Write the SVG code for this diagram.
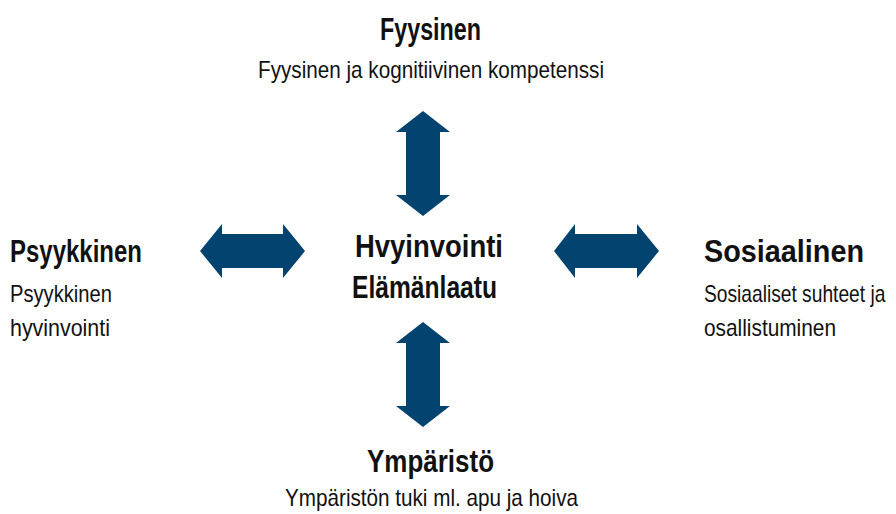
<svg xmlns="http://www.w3.org/2000/svg" width="896" height="514" viewBox="0 0 896 514">
<style>
.h{font-family:"Liberation Sans",Arial,sans-serif;font-weight:bold;font-size:31px;fill:#111}
.t{font-family:"Liberation Sans",Arial,sans-serif;font-size:24px;fill:#111}
.a{fill:#02436f}
</style>
<rect width="896" height="514" fill="#fff"/>
<g id="connectors">
<path class="a" d="M423,111 L450,132 L440,132 L440,195 L450,195 L423,216 L396,195 L406,195 L406,132 L396,132 Z"/>
<path class="a" d="M423,322 L450,343 L440,343 L440,406 L450,406 L423,427 L396,406 L406,406 L406,343 L396,343 Z"/>
<path class="a" d="M200,251 L222,224 L222,234 L283,234 L283,224 L305,251 L283,278 L283,268 L222,268 L222,278 Z"/>
<path class="a" d="M554,251 L575,224 L575,234 L637,234 L637,224 L659,251 L637,278 L637,268 L575,268 L575,278 Z"/>
</g>
<g id="fyysinen">
<text class="h" x="380" y="40" textLength="101" lengthAdjust="spacingAndGlyphs">Fyysinen</text>
<text class="t" x="258" y="78" textLength="346" lengthAdjust="spacingAndGlyphs">Fyysinen ja kognitiivinen kompetenssi</text>
</g>
<g id="psyykkinen">
<text class="h" x="10" y="262" textLength="132" lengthAdjust="spacingAndGlyphs">Psyykkinen</text>
<text class="t" x="10" y="302" textLength="102" lengthAdjust="spacingAndGlyphs">Psyykkinen</text>
<text class="t" x="10" y="336" textLength="100" lengthAdjust="spacingAndGlyphs">hyvinvointi</text>
</g>
<g id="hyvinvointi">
<text class="h" x="355" y="257" textLength="148" lengthAdjust="spacingAndGlyphs">Hvyinvointi</text>
<text class="h" x="352" y="298" textLength="145" lengthAdjust="spacingAndGlyphs">Elämänlaatu</text>
</g>
<g id="sosiaalinen">
<text class="h" x="704" y="262" textLength="160" lengthAdjust="spacingAndGlyphs">Sosiaalinen</text>
<text class="t" transform="translate(704,302) scale(0.8,1)" x="0" y="0">Sosiaaliset suhteet ja</text>
<text class="t" x="704" y="336" textLength="132" lengthAdjust="spacingAndGlyphs">osallistuminen</text>
</g>
<g id="ymparisto">
<text class="h" x="367" y="472" textLength="127" lengthAdjust="spacingAndGlyphs">Ympäristö</text>
<text class="t" x="285" y="506" textLength="293" lengthAdjust="spacingAndGlyphs">Ympäristön tuki ml. apu ja hoiva</text>
</g>
</svg>
